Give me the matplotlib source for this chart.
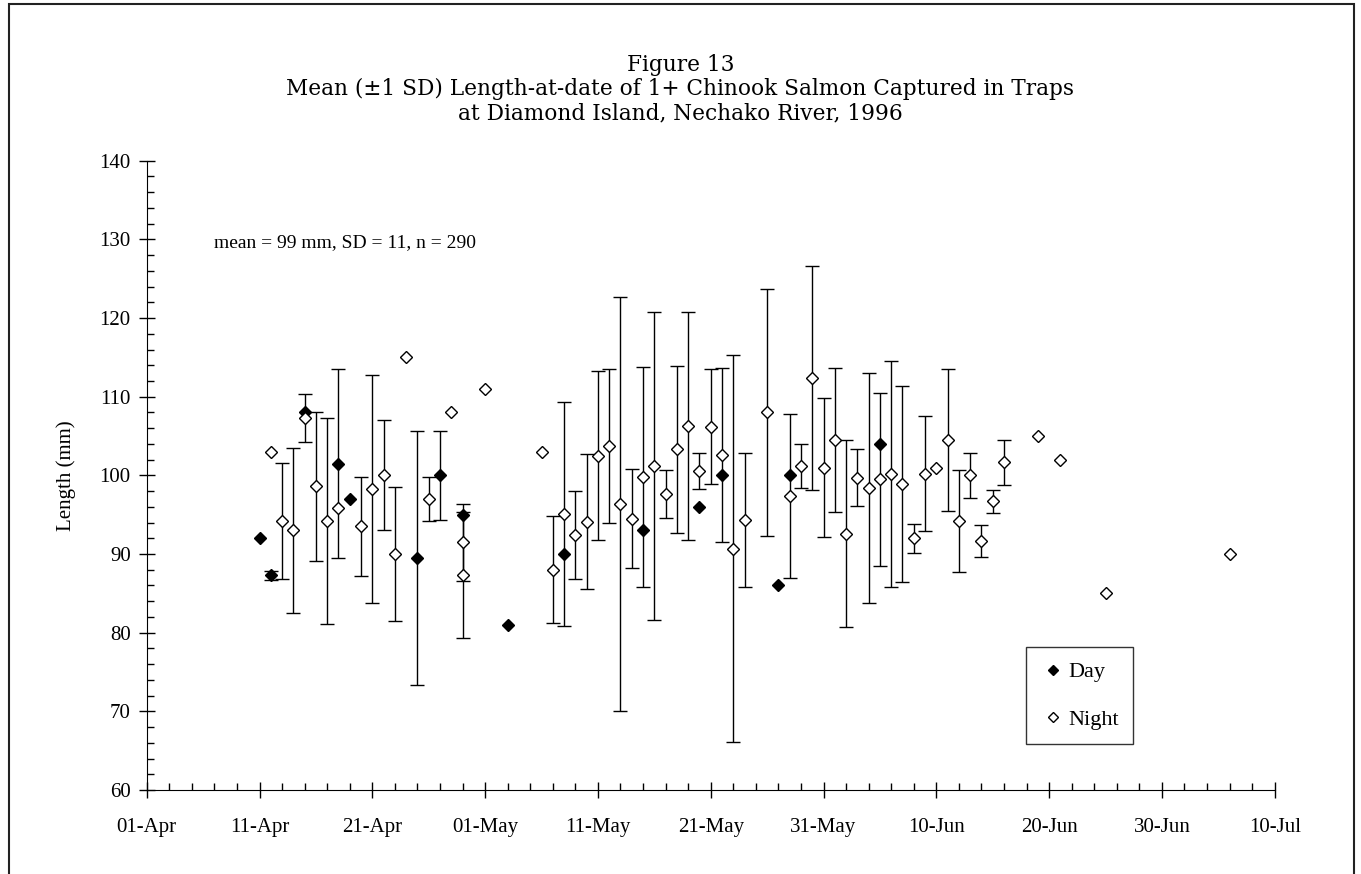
import matplotlib
matplotlib.use("Agg")
import matplotlib.pyplot as plt
import matplotlib.dates as mdates
from matplotlib.lines import Line2D
from matplotlib.patches import Rectangle
import numpy as np

plt.rcParams.update({"font.family": "Liberation Serif", "font.size": 15})

# Day catches: date, mean length (mm), SD (nan = single fish)
day_dates = ["1996-04-11", "1996-04-12", "1996-04-15", "1996-04-18", "1996-04-19",
             "1996-04-25", "1996-04-27", "1996-04-29", "1996-05-03", "1996-05-08",
             "1996-05-15", "1996-05-20", "1996-05-22", "1996-05-27", "1996-05-28",
             "1996-06-05"]
day_mean = [92, 87.3, 108, 101.5, 97, 89.5, 100, 95, 81, 90, 93, 96, 100, 86, 100, 104]
day_sd = [np.nan, 0.6, np.nan, 12.0, np.nan, 16.2, 5.65, np.nan, np.nan, np.nan,
          np.nan, np.nan, np.nan, np.nan, np.nan, np.nan]

# Night catches
night_dates = ["1996-04-12", "1996-04-13", "1996-04-14", "1996-04-15", "1996-04-16",
               "1996-04-17", "1996-04-18", "1996-04-20", "1996-04-21", "1996-04-22",
               "1996-04-23", "1996-04-24", "1996-04-26", "1996-04-28", "1996-04-29",
               "1996-04-29", "1996-05-01", "1996-05-06", "1996-05-07", "1996-05-08",
               "1996-05-09", "1996-05-10", "1996-05-11", "1996-05-12", "1996-05-13",
               "1996-05-14", "1996-05-15", "1996-05-16", "1996-05-17", "1996-05-18",
               "1996-05-19", "1996-05-20", "1996-05-21", "1996-05-22", "1996-05-23",
               "1996-05-24", "1996-05-26", "1996-05-28", "1996-05-29", "1996-05-30",
               "1996-05-31", "1996-06-01", "1996-06-02", "1996-06-03", "1996-06-04",
               "1996-06-05", "1996-06-06", "1996-06-07", "1996-06-08", "1996-06-09",
               "1996-06-10", "1996-06-11", "1996-06-12", "1996-06-13", "1996-06-14",
               "1996-06-15", "1996-06-16", "1996-06-19", "1996-06-21", "1996-06-25",
               "1996-07-06"]
night_mean = [103, 94.2, 93.0, 107.3, 98.6, 94.2, 95.9, 93.5, 98.3, 100.0,
              90.0, 115, 97.0, 108, 91.5, 87.3, 111, 103, 88.0, 95.1,
              92.4, 94.1, 102.5, 103.7, 96.4, 94.5, 99.8, 101.2, 97.6, 103.3,
              106.3, 100.6, 106.2, 102.6, 90.7, 94.3, 108.0, 97.4, 101.2, 112.4,
              101.0, 104.5, 92.6, 99.7, 98.4, 99.5, 100.2, 98.9, 92.0, 100.2,
              101.0, 104.5, 94.2, 100.0, 91.7, 96.7, 101.65, 105, 102, 85,
              90]
night_sd = [np.nan, 7.4, 10.5, 3.1, 9.45, 13.1, np.nan, 6.3, 14.5, 7.0,
            8.5, np.nan, 2.8, np.nan, 4.9, 8.0, np.nan, np.nan, 6.8, 14.2,
            5.6, 8.6, 10.75, 9.8, 26.3, 6.3, 14.0, 19.6, 3.05, 10.6,
            14.5, 2.3, 7.35, 11.1, 24.6, 8.55, 15.65, 10.4, 2.8, 14.2,
            8.85, 9.15, 11.9, 3.65, 14.65, 11.0, 14.4, 12.5, 1.85, 7.3,
            np.nan, 9.0, 6.45, 2.85, 2.05, 1.5, 2.9, np.nan, np.nan, np.nan,
            np.nan]

tick_start, tick_end = "1996-04-01", "1996-07-10"
summary = "mean = 99 mm, SD = 11, n = 290"

fig = plt.figure(figsize=(13.61, 8.74), dpi=100)
ax = fig.add_axes([0.1078, 0.0961, 0.8288, 0.7200])

dd = mdates.date2num(np.array(day_dates, dtype="datetime64[D]"))
nd = mdates.date2num(np.array(night_dates, dtype="datetime64[D]"))

ax.errorbar(nd, night_mean, yerr=night_sd, fmt="none", ecolor="black",
            elinewidth=1, capsize=5, capthick=1, zorder=2)
ax.errorbar(dd, day_mean, yerr=day_sd, fmt="none", ecolor="black",
            elinewidth=1, capsize=5, capthick=1, zorder=2)
ax.plot(dd, day_mean, "D", ms=6, mfc="black", mec="black", ls="none", zorder=3)
ax.plot(nd, night_mean, "D", ms=6, mfc="white", mec="black", mew=1, ls="none", zorder=4)

x0 = mdates.date2num(np.datetime64(tick_start))
x1 = mdates.date2num(np.datetime64(tick_end))
ax.set_xlim(x0, x1)
ax.set_ylim(60, 140)
ax.set_xticks(np.arange(x0, x1 + 1, 10))
ax.set_xticks(np.arange(x0, x1 + 1, 2), minor=True)
ax.xaxis.set_major_formatter(mdates.DateFormatter("%d-%b"))
ax.set_yticks(np.arange(60, 141, 10))
ax.set_yticks(np.arange(60, 141, 2), minor=True)

for s in ("top", "right"):
    ax.spines[s].set_visible(False)
ax.tick_params(which="major", direction="inout", length=12, width=1, labelsize=15)
ax.tick_params(which="minor", direction="in", length=5, width=1)
ax.tick_params(axis="x", which="major", pad=14)
ax.tick_params(axis="y", which="major", pad=5.5)

ax.set_ylabel("Length (mm)", fontsize=15, labelpad=17)
ax.text(0.06, 0.87, summary, transform=ax.transAxes, fontsize=14, va="center")

handles = [Line2D([], [], marker="D", ls="none", ms=5.5, mfc="black", mec="black"),
           Line2D([], [], marker="D", ls="none", ms=5.5, mfc="white", mec="black")]
leg = ax.legend(handles, ["Day", "Night"], loc="lower left",
                bbox_to_anchor=(0.7795, 0.0731), borderaxespad=0,
                frameon=True, fancybox=False, edgecolor="black", fontsize=16,
                handlelength=1.1, handletextpad=0.15, labelspacing=1.2, borderpad=0.65)
leg.get_frame().set_linewidth(1)

title_lines = ["Figure 13",
               "Mean (\u00b11 SD) Length-at-date of 1+ Chinook Salmon Captured in Traps",
               "at Diamond Island, Nechako River, 1996"]
for line, ypix in zip(title_lines, (65, 89, 113)):
    fig.text(0.5, 1 - ypix / 874, line, ha="center", va="center",
             family="DejaVu Serif", fontsize=15.6)

fig.patches.append(Rectangle((9 / 1361, -0.05), (1354 - 9) / 1361, 1.05 - 4 / 874,
                             transform=fig.transFigure, fill=False,
                             edgecolor="#222222", linewidth=1.5))

fig.savefig("out.png", dpi=100)
